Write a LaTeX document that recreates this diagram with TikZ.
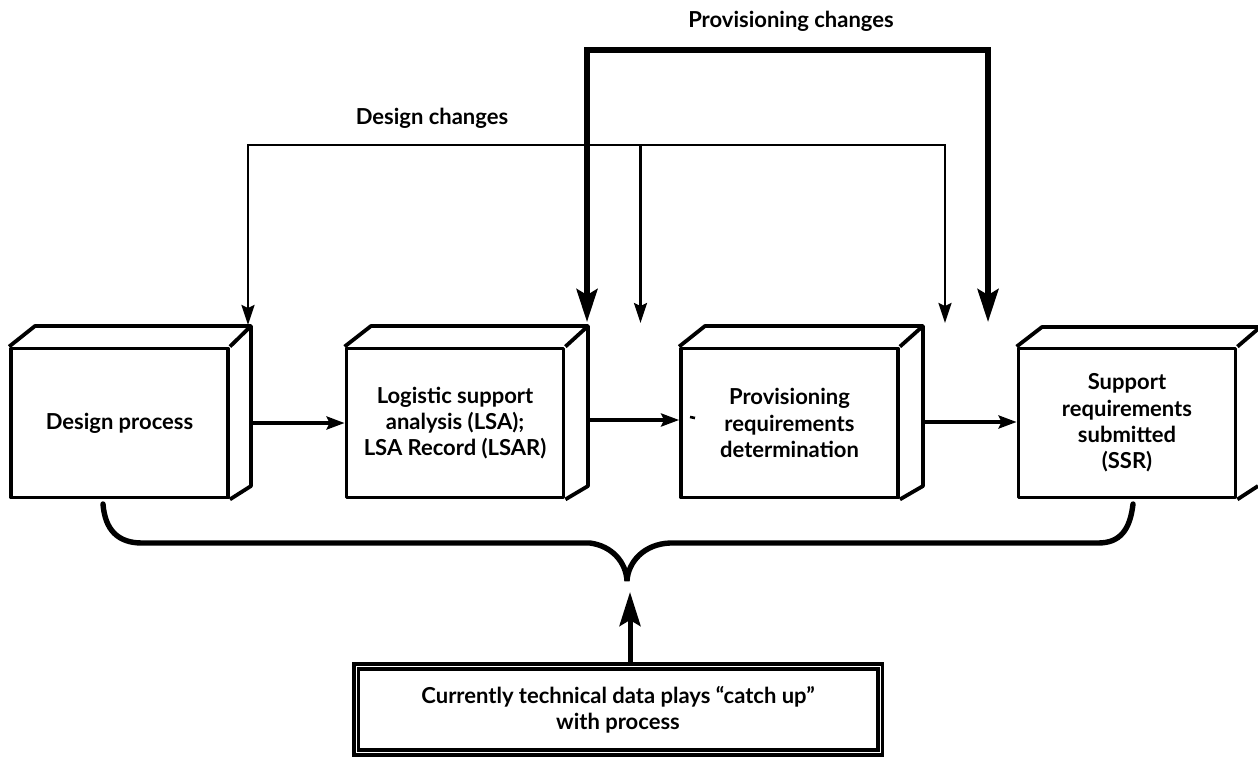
\documentclass[tikz,border=0pt]{standalone}
\usepackage{fontspec}
\setmainfont{Lato}
\usetikzlibrary{arrows.meta,calc}
\tikzset{
  x=0.5pt,y=-0.5pt,
  txt/.style={font=\bfseries\fontsize{11pt}{13.2pt}\selectfont,align=center,inner sep=0pt},
  front/.style={txt,draw,line width=1.9pt,line join=round,minimum width=108.5pt,minimum height=74.5pt,inner sep=0pt},
  side/.style={line width=1.9pt,line join=round},
  thinarrow/.style={line width=1.3pt,line join=miter,-{Stealth[length=10pt,width=6.5pt,inset=1.5pt]}},
  midarrow/.style={line width=1.7pt,-{Stealth[length=9pt,width=6.5pt,inset=1.5pt]}},
  thickarrow/.style={line width=2.6pt,line join=miter,{Stealth[length=16.5pt,width=10.5pt,inset=3pt]}-{Stealth[length=16.5pt,width=10.5pt,inset=3pt]}},
  brace/.style={line width=2.7pt,line cap=round},
  dbox/.style={txt,draw,double,line width=1.9pt,double distance=0.5pt,minimum width=262pt,minimum height=43pt}
}
\begin{document}
\begin{tikzpicture}
\useasboundingbox (0,0) rectangle (1258,756);
% boxes
\node[front] (b1) at (119.5,423) {Design process};
\node[front] (b2) at (455,423) {Logistic support\\analysis (LSA);\\LSA Record (LSAR)};
\node[front] (b3) at (789.5,423) {Provisioning\\requirements\\determination};
\node[front] (b4) at (1127,423) {Support\\requirements\\submitted\\(SSR)};
% 3-D faces
\coordinate (c1) at (251,326); \coordinate (r1) at (251,423);
\coordinate (c2) at (588,326); \coordinate (r2) at (588,420);
\coordinate (c3) at (923,326); \coordinate (r3) at (923,422);
\draw[side] (b1.north west) -- (35,326) -- (c1) -- (251,486) -- (b1.south east) (b1.north east) -- (c1);
\draw[side] (b2.north west) -- (371,326) -- (c2) -- (588,486) -- (b2.south east) (b2.north east) -- (c2);
\draw[side] (b3.north west) -- (705,326) -- (c3) -- (923,486) -- (b3.south east) (b3.north east) -- (c3);
\draw[side] (b4.north west) -- (1042,327) -- (1258,327) (b4.north east) -- (1258,329) (b4.south east) -- (1258,486);
% flow arrows
\draw[midarrow] (r1) -- (r1 -| b2.west);
\draw[midarrow] (r2) -- (r2 -| b3.west);
\draw[midarrow] (r3) -- (r3 -| b4.west);
\draw[line width=1.3pt] (690,417) -- (695,418);
% design changes
\coordinate (dA) at (248,325); \coordinate (dB) at (640.5,323); \coordinate (dC) at (945,323);
\coordinate (dTop) at (248,145);
\draw[thinarrow,{Stealth[length=10pt,width=6.5pt,inset=1.5pt]}-{Stealth[length=10pt,width=6.5pt,inset=1.5pt]}] (dA) -- (dTop) -- (dTop -| dC) -- (dC);
\draw[thinarrow] (dTop -| dB) -- (dB);
\node[txt] (dl) at (432,118) {Design changes};
% provisioning changes
\coordinate (pA) at (587,322); \coordinate (pB) at (988,322); \coordinate (pTop) at (587,50);
\draw[thickarrow] (pA) -- (pTop) -- (pTop -| pB) -- (pB);
\node[txt] (pl) at (791,21) {Provisioning changes};
% brace
\coordinate (bL) at (103,504); \coordinate (bM) at (627,581); \coordinate (bR) at (1133,504);
\draw[brace] (bL) .. controls (105,530) and (118,543) .. (142,543) -- (590,543)
   .. controls (612,546) and (626,562) .. (bM)
   .. controls (628,562) and (644,544) .. (670,543) -- (1098,543)
   .. controls (1120,543) and (1130,530) .. (bR);
% note box
\node[dbox] (db) at (618,709.5) {Currently technical data plays “catch up”\\with process};
\coordinate (up) at (630,592);
\draw[line width=2.5pt,-{Stealth[length=17pt,width=10.5pt,inset=3pt]}] (up |- db.north) -- (up);
\end{tikzpicture}
\end{document}
